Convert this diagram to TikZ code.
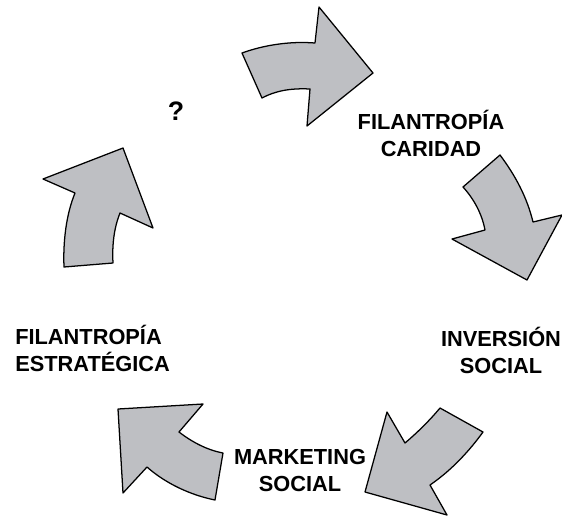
\documentclass[tikz,border=0pt]{standalone}
\usepackage{fontspec}
\setmainfont{Liberation Sans}
\usepackage{tikz}
\definecolor{arrowgray}{RGB}{190,191,195}

\begin{document}
\begin{tikzpicture}[line cap=round,line join=round,x=0.025cm,y=-0.025cm,
  flecha/.style={draw=black,fill=arrowgray,line width=0.9pt},
  etiqueta/.style={font=\fontsize{15.5}{19.2}\selectfont\bfseries,align=center,inner sep=0pt}]
\useasboundingbox (0,0) rectangle (562,516);
%flechas
\draw [flecha] (242,53) .. controls (264,45) and (290,41) .. (315,43) -- (319,7) -- (373,73) -- (307,126) -- (310,89) .. controls (290,88) and (275,91) .. (262,98) -- cycle;
\draw [flecha] (463,187) -- (500,155) .. controls (515,175) and (527,197) .. (533,222) -- (562,215) -- (527,280) -- (452,239) -- (485,230) .. controls (482,214) and (474,199) .. (463,187) -- cycle;
\draw [flecha] (440,408) -- (483,432) .. controls (470,450) and (452,470) .. (430,485) -- (447,515) -- (365,492) -- (387,412) -- (405,443) .. controls (418,432) and (430,420) .. (440,408) -- cycle;
\draw [flecha] (118,409) -- (203,404) -- (179,432) .. controls (192,442) and (207,450) .. (223,453) -- (215,500) .. controls (190,495) and (165,483) .. (147,467) -- (123,493) -- cycle;
\draw [flecha] (64,267) -- (113,263) .. controls (112,245) and (114,228) .. (120,213) -- (153,228) -- (123,148) -- (43,179) -- (75,193) .. controls (66,215) and (63,242) .. (64,267) -- cycle;
%textos
\node[etiqueta] (pregunta) at (176,111) {\fontsize{19}{22}\selectfont ?};
\node[etiqueta] (caridad) at (431,133) {FILANTROPÍA\\CARIDAD};
\node[etiqueta] (inversion) at (501,350) {INVERSIÓN\\SOCIAL};
\node[etiqueta] (marketing) at (300,470) {MARKETING\\SOCIAL};
\node[etiqueta,align=left,anchor=west] (estrategica) at (15,348) {FILANTROPÍA\\ESTRATÉGICA};
\end{tikzpicture}
\end{document}
